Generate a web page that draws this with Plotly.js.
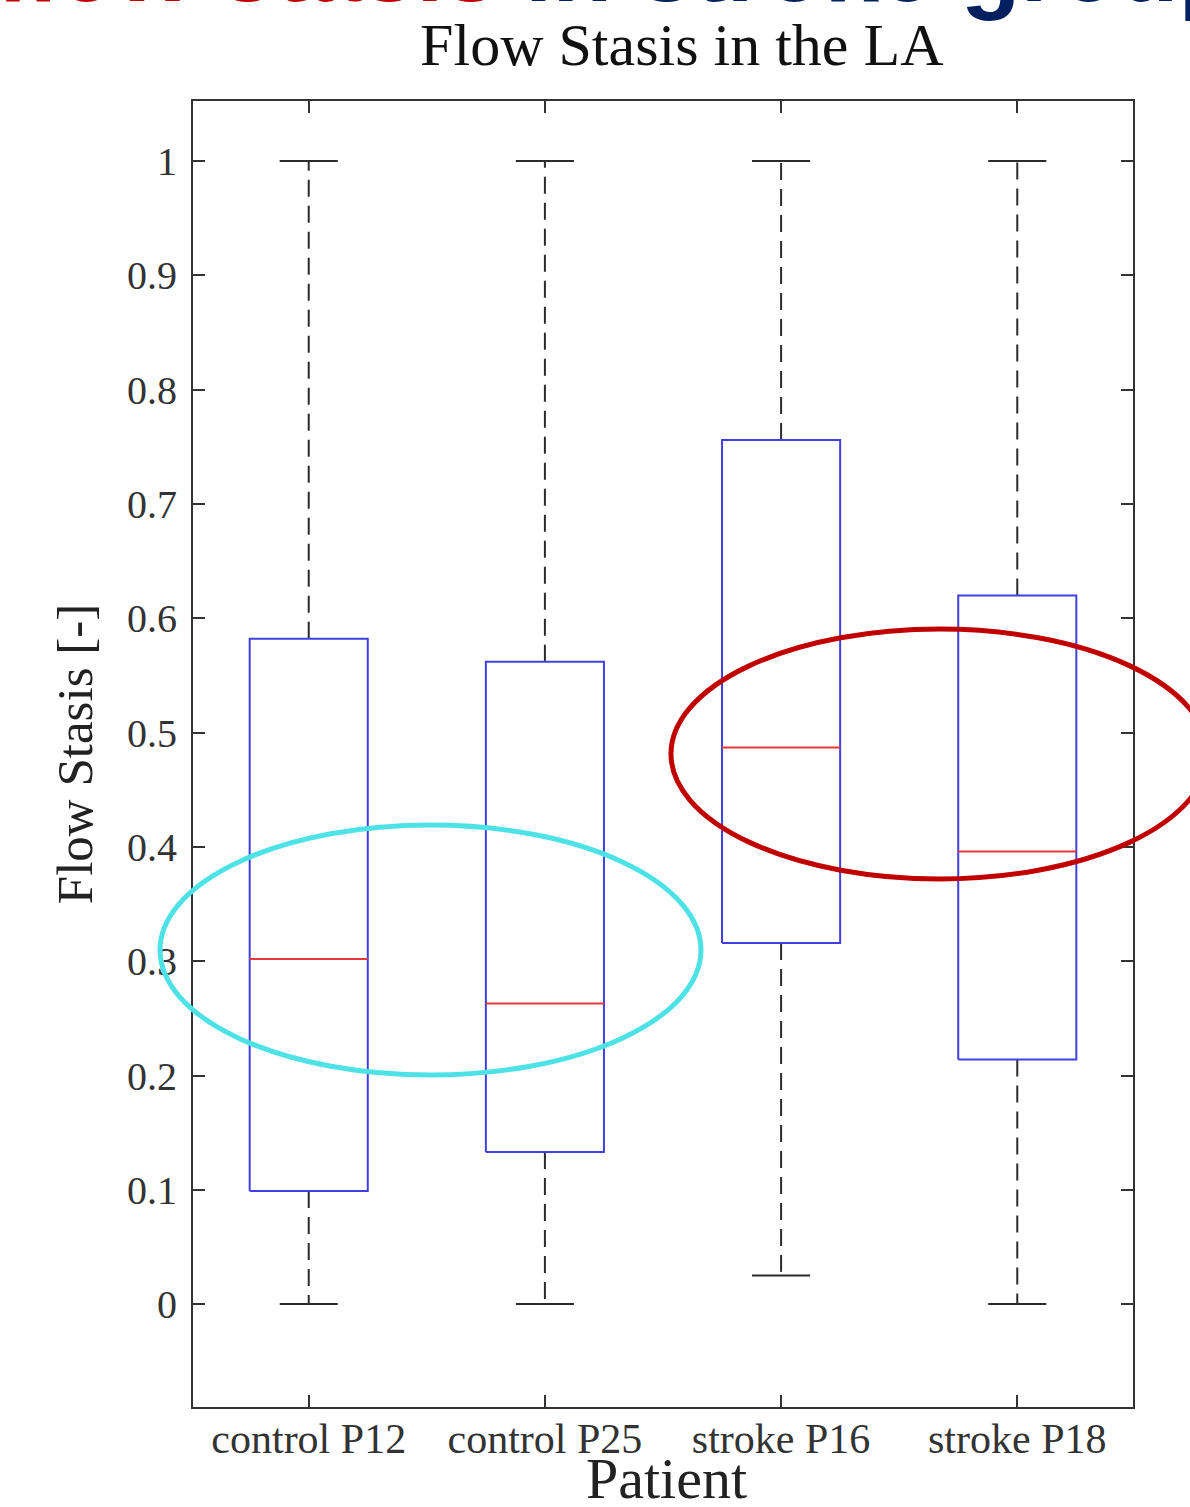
<!DOCTYPE html>
<html><head><meta charset="utf-8">
<script src="https://cdn.plot.ly/plotly-3.0.1.min.js"></script>
<style>html,body{margin:0;padding:0;background:#fff}#chart{width:1190px;height:1507px}</style>
</head><body><div id="chart"></div>
<script>
// ---- data ----
const patients    = ['control P12', 'control P25', 'stroke P16', 'stroke P18'];
const whiskerLow  = [0.000, 0.000, 0.025, 0.000];
const q1          = [0.099, 0.133, 0.316, 0.214];
const median      = [0.302, 0.263, 0.487, 0.396];
const q3          = [0.582, 0.562, 0.756, 0.620];
const whiskerHigh = [1.000, 1.000, 1.000, 1.000];
const yTickValues = [0, 0.1, 0.2, 0.3, 0.4, 0.5, 0.6, 0.7, 0.8, 0.9, 1];
const yTickLabels = ['0', '0.1', '0.2', '0.3', '0.4', '0.5', '0.6', '0.7', '0.8', '0.9', '1'];

// ---- geometry helpers (in category units) ----
const BOX_HALF = 0.25, CAP_HALF = 0.123;
const pos = patients.map((_, i) => i);

function segs(build) {
  const x = [], y = [];
  pos.forEach(i => { build(i, x, y); x.push(null); y.push(null); });
  return {x, y};
}

const whiskers = segs((i, x, y) => {
  x.push(i, i, null, i, i);
  y.push(q3[i], whiskerHigh[i], null, q1[i], whiskerLow[i]);
});
const caps = segs((i, x, y) => {
  x.push(i - CAP_HALF, i + CAP_HALF, null, i - CAP_HALF, i + CAP_HALF);
  y.push(whiskerHigh[i], whiskerHigh[i], null, whiskerLow[i], whiskerLow[i]);
});
const boxes = segs((i, x, y) => {
  x.push(i - BOX_HALF, i + BOX_HALF, i + BOX_HALF, i - BOX_HALF, i - BOX_HALF);
  y.push(q1[i], q1[i], q3[i], q3[i], q1[i]);
});
const meds = segs((i, x, y) => {
  x.push(i - BOX_HALF, i + BOX_HALF);
  y.push(median[i], median[i]);
});

const traces = [
  {type: 'scatter', mode: 'lines', x: whiskers.x, y: whiskers.y, hoverinfo: 'skip',
   line: {color: '#2b2b2b', width: 2, dash: '17px,9px'}},
  {type: 'scatter', mode: 'lines', x: caps.x, y: caps.y, hoverinfo: 'skip',
   line: {color: '#2b2b2b', width: 2}},
  {type: 'scatter', mode: 'lines', x: boxes.x, y: boxes.y, hoverinfo: 'skip',
   line: {color: '#4040e0', width: 2}},
  {type: 'scatter', mode: 'lines', x: meds.x, y: meds.y, hoverinfo: 'skip',
   line: {color: '#e23a3a', width: 2}}
];

const serif = 'Liberation Serif, Times New Roman, serif';
const axisCommon = {
  ticks: 'inside', tickwidth: 2, tickcolor: '#333',
  showline: true, linecolor: '#333', linewidth: 2, mirror: 'allticks',
  showgrid: false, zeroline: false
};

const layout = {
  width: 1190, height: 1507,
  margin: {l: 193, r: 57, t: 101, b: 100, pad: 0},
  paper_bgcolor: '#fff', plot_bgcolor: '#fff',
  showlegend: false,
  title: {text: 'Flow Stasis in the LA',
          font: {family: serif, size: 60, color: '#111'},
          x: 0.52, xref: 'paper', xanchor: 'center',
          y: 1 - 44 / 1507, yref: 'container', yanchor: 'middle'},
  xaxis: Object.assign({}, axisCommon, {
    range: [-0.49, 3.49], tickvals: pos, ticktext: patients, ticklen: 12,
    ticklabelstandoff: -6,
    tickfont: {family: serif, size: 42, color: '#333'}
  }),
  yaxis: Object.assign({}, axisCommon, {
    range: [-0.09, 1.0525], tickvals: yTickValues, ticktext: yTickLabels, ticklen: 12,
    tickfont: {family: serif, size: 40, color: '#333'},
    ticklabelstandoff: 6,
    title: {text: 'Flow Stasis [-]', font: {family: serif, size: 51, color: '#222'}, standoff: 18}
  }),
  shapes: [
    {type: 'circle', xref: 'paper', yref: 'paper', layer: 'above',
     x0: -0.0351, x1: 0.5404, y0: 0.2542, y1: 0.4456,
     line: {color: '#4ee2e6', width: 5}},
    {type: 'circle', xref: 'paper', yref: 'paper', layer: 'above',
     x0: 0.5085, x1: 1.0798, y0: 0.4043, y1: 0.5957,
     line: {color: '#c00000', width: 5}}
  ],
  annotations: [
    {text: 'Patient', xref: 'paper', yref: 'paper', showarrow: false,
     x: (666 - 193) / 940, xanchor: 'center', y: (1407 - 1478) / 1306, yanchor: 'middle',
     font: {family: serif, size: 58, color: '#222'}},
    {text: '<b>flow stasis</b>', xref: 'paper', yref: 'paper', showarrow: false,
     x: (500 - 193) / 940, xanchor: 'right', y: (1407 - 24) / 1306, yanchor: 'bottom',
     font: {family: 'Liberation Sans, Arial, sans-serif', size: 98, color: '#c00000'}},
    {text: '<b>in stroke group</b>', xref: 'paper', yref: 'paper', showarrow: false,
     x: (523 - 193) / 940, xanchor: 'left', y: (1407 - 24) / 1306, yanchor: 'bottom',
     font: {family: 'Liberation Sans, Arial, sans-serif', size: 98, color: '#002060'}}
  ]
};

Plotly.newPlot('chart', traces, layout, {displayModeBar: false, staticPlot: true});
</script>
</body></html>
